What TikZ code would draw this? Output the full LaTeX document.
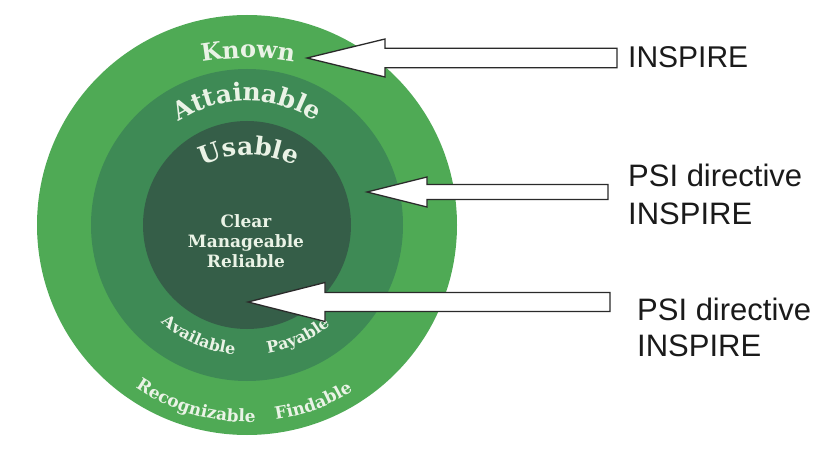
\documentclass[tikz,border=0pt]{standalone}
\usepackage{fontspec}
\setmainfont{Liberation Sans}
\newfontfamily\ringfont{DejaVu Serif}
\usetikzlibrary{calc,decorations.text}
\definecolor{ringA}{HTML}{4FAA55}
\definecolor{ringB}{HTML}{3E8A55}
\definecolor{ringC}{HTML}{355E48}
\definecolor{ringtxt}{HTML}{EAF3E6}
\definecolor{labtxt}{HTML}{1A1A1A}
\definecolor{arrline}{HTML}{2A2A2A}
\def\fBig{\ringfont\bfseries\fontsize{24}{24}\selectfont}
\def\fMid{\ringfont\bfseries\fontsize{25}{25}\selectfont}
\def\fSmall{\ringfont\bfseries\fontsize{16}{16}\selectfont}
\def\fLow{\ringfont\bfseries\fontsize{17}{17}\selectfont}
\newcommand\blockarr[5]{%
  \draw[barrow] (#1) -- ($(#1)+(#5,#4)$) -- ($(#1)+(#5,#3)$) -- ($(#2)+(0,#3)$)
    -- ($(#2)+(0,-#3)$) -- ($(#1)+(#5,-#3)$) -- ($(#1)+(#5,-#4)$) -- cycle;}
\begin{document}
\begin{tikzpicture}[x=1pt,y=1pt,
  ring/.style={circle,inner sep=0pt,outer sep=0pt,minimum size=#1},
  ringtext/.style={decorate,decoration={text along path,text align=center,text color=ringtxt,text={#1}}},
  barrow/.style={fill=white,draw=arrline,line width=1.3pt,line join=miter},
  lab/.style={anchor=base west,inner sep=0pt,text=labtxt}]
\useasboundingbox (0,0) rectangle (815,448);
\fill[white] (0,0) rectangle (815,448);
\coordinate (C) at (247,223);
% rings
\node[ring=420pt,fill=ringA] (outer) at (C) {};
\node[ring=312pt,fill=ringB] (middle) at (C) {};
\node[ring=208pt,fill=ringC] (inner) at (C) {};
% curved labels
\path[ringtext={|\fBig|Known}] ($(248,130)+(105:260)$) arc[start angle=105,end angle=75,radius=260];
\path[ringtext={|\fMid|Attainable}] ($(247,222)+(155:125)$) arc[start angle=155,end angle=25,radius=125];
\path[ringtext={|\fMid|Usable}] ($(249,188)+(145:105)$) arc[start angle=145,end angle=35,radius=105];
\path[ringtext={|\fSmall|Available}] ($(C)+(200:130)$) arc[start angle=200,end angle=293,radius=130];
\path[ringtext={|\fSmall|Payable}] ($(C)+(260:130)$) arc[start angle=260,end angle=329,radius=130];
\path[ringtext={|\fLow|Recognizable}] ($(C)+(212:197)$) arc[start angle=212,end angle=296,radius=197];
\path[ringtext={|\fLow|Findable}] ($(C)+(258:197)$) arc[start angle=258,end angle=323,radius=197];
\node[align=center,text=ringtxt,font=\ringfont\bfseries\fontsize{17}{20}\selectfont] (core) at (246,207) {Clear\\Manageable\\Reliable};
% labels
\node[lab,font=\fontsize{30}{30}\selectfont] (l1) at (628,380) {INSPIRE};
\node[lab,font=\fontsize{31}{31}\selectfont] (l2a) at (628,261) {PSI directive};
\node[lab,font=\fontsize{31}{31}\selectfont] (l2b) at (628,223) {INSPIRE};
\node[lab,font=\fontsize{31}{31}\selectfont] (l3a) at (637,128) {PSI directive};
\node[lab,font=\fontsize{31}{31}\selectfont] (l3b) at (637,92) {INSPIRE};
% arrows
\coordinate (t1) at (307,390); \coordinate (e1) at (617,390);
\coordinate (t2) at (367,256); \coordinate (e2) at (608,256);
\coordinate (t3) at (248,146); \coordinate (e3) at (610,146);
\blockarr{t1}{e1}{9.7}{19}{78}
\blockarr{t2}{e2}{7.5}{15}{60}
\blockarr{t3}{e3}{9.5}{19.5}{77}
\end{tikzpicture}
\end{document}
